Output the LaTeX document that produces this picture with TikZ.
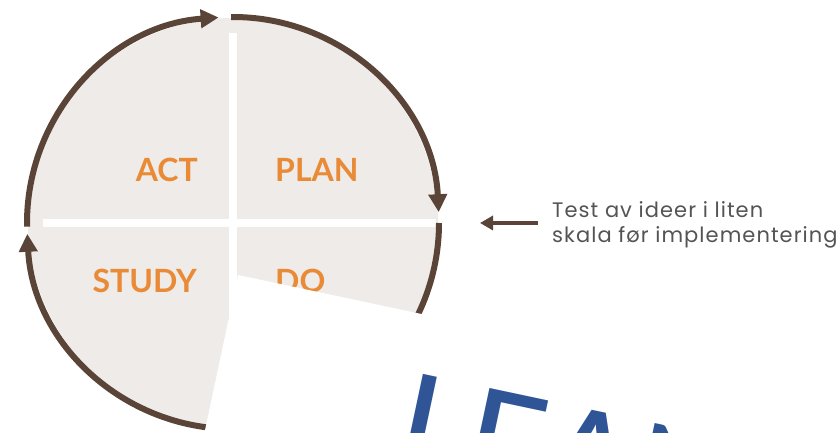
\documentclass[tikz,border=0pt]{standalone}
\usepackage{fontspec}
\setmainfont{Lato}
\newfontfamily\leanfont{Carlito}
\newfontfamily\notefont[LetterSpace=5]{Poppins}
\usetikzlibrary{arrows.meta}
\definecolor{disk}{HTML}{EEEBE8}
\definecolor{ring}{HTML}{5A4438}
\definecolor{phaseorange}{HTML}{E98A36}
\definecolor{notegray}{HTML}{545454}
\definecolor{leanblue}{HTML}{2F5597}
\begin{document}
\begin{tikzpicture}
		[	x=1pt,y=1pt,
		cyclearc/.style={draw=ring,line width=6pt,-{Triangle[length=18pt,width=18pt]}},
		pointer/.style={draw=ring,line width=4.5pt,-{Triangle[length=13pt,width=14pt]}},
		phase/.style={text=phaseorange,font=\bfseries\fontsize{32}{32}\selectfont,inner sep=0},
		note/.style={text=notegray,font=\notefont\fontsize{21}{24.5}\selectfont,align=left,inner sep=0},
		lean/.style={text=leanblue,font=\leanfont\fontsize{160}{165}\selectfont,inner sep=0}
		]
		\useasboundingbox (0,0) rectangle (838,433);
		\coordinate (c) at (233,210);

		\fill[disk] (c) circle[radius=205];
		\draw[white,line width=8pt] (233,400) -- (233,0);
		\draw[white,line width=8pt] (43,210) -- (436,210);

		\draw[cyclearc] (c) ++(181:206) arc[start angle=181,end angle=94,radius=206];
		\draw[cyclearc] (c) ++(90.5:206) arc[start angle=90.5,end angle=3,radius=206];
		\draw[cyclearc] (c) ++(0:206) arc[start angle=0,end angle=-87,radius=206];
		\draw[cyclearc] (c) ++(-90:206) arc[start angle=-90,end angle=-177,radius=206];

		\node[phase,anchor=east] (act) at (198,263) {ACT};
		\node[phase,anchor=west] (plan) at (275,263) {PLAN};
		\node[phase,anchor=east] (study) at (197,152) {STUDY};
		\node[phase,anchor=west] (do) at (275,152) {DO};

		\fill[white,rotate around={-12:(238,158)}] (238,158) rectangle ++(800,-500);
		\node[lean,anchor=north west,rotate=-12] (lean) at (413,61) {LEAN};

		\node[note,anchor=west] (note) at (552,208) {Test av ideer i liten\\skala før implementering};
		\coordinate (tail) at (538,210);
		\coordinate (tip) at (480,210);
		\draw[pointer] (tail) -- (tip);
	\end{tikzpicture}
\end{document}
